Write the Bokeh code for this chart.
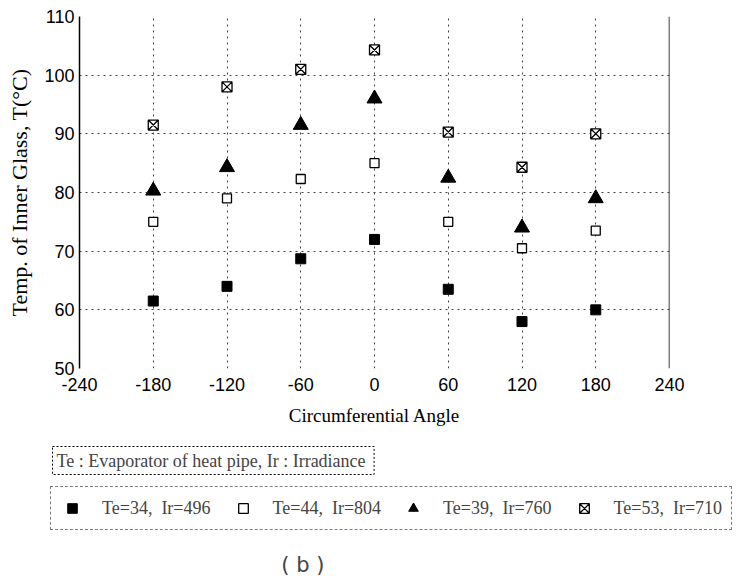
from bokeh.plotting import figure
from bokeh.models import (FixedTicker, Range1d, Span, Label, Legend, LegendItem,
                          ColumnDataSource)
from bokeh.layouts import column
from bokeh.embed import file_html
from bokeh.resources import INLINE

# ---- data ----
angles = [-180, -120, -60, 0, 60, 120, 180]
t_34_496 = [61.5, 64.0, 68.7, 72.0, 63.5, 58.0, 60.0]
t_44_804 = [75.0, 79.0, 82.3, 85.0, 75.0, 70.5, 73.5]
t_39_760 = [80.3, 84.3, 91.5, 96.0, 82.5, 74.0, 79.0]
t_53_710 = [91.5, 98.0, 101.0, 104.3, 90.3, 84.3, 90.0]
series_labels = ["Te=34,  Ir=496", "Te=44,  Ir=804", "Te=39,  Ir=760", "Te=53,  Ir=710"]
x_ticks = [-240, -180, -120, -60, 0, 60, 120, 180, 240]
y_ticks = [50, 60, 70, 80, 90, 100, 110]
note_text = "Te : Evaporator of heat pipe,  Ir : Irradiance"
caption = "(  b  )"

W = 739
H_TOP = 430
H_BOT = 576 - H_TOP

p = figure(width=W, height=H_TOP, output_backend="svg", toolbar_location=None,
           x_range=Range1d(-240, 240), y_range=Range1d(50, 110),
           min_border_left=79, min_border_right=70, min_border_top=16,
           min_border_bottom=62)
p.frame_align = False
p.outline_line_color = None
p.background_fill_color = "white"
p.border_fill_color = "white"

for ax in (p.xaxis[0], p.yaxis[0]):
    ax.major_tick_out = 0
    ax.major_tick_in = 0
    ax.minor_tick_out = 0
    ax.minor_tick_in = 0
    ax.major_label_text_font = "Liberation Sans"
    ax.major_label_text_font_size = "18px"
    ax.major_label_text_color = "black"
    ax.axis_label_text_font = "Liberation Serif"
    ax.axis_label_text_font_style = "normal"
    ax.axis_label_text_color = "black"

p.xaxis.ticker = FixedTicker(ticks=x_ticks)
p.yaxis.ticker = FixedTicker(ticks=y_ticks)
p.xaxis.major_label_overrides = {t: str(t) for t in x_ticks}
p.yaxis.major_label_overrides = {t: str(t) for t in y_ticks}
p.xaxis.axis_line_color = None
p.yaxis.axis_line_color = "black"
p.yaxis.axis_line_width = 1.5
p.xaxis.major_label_standoff = 9
p.yaxis.major_label_standoff = 5
p.xaxis.axis_label = "Circumferential Angle"
p.yaxis.axis_label = "Temp. of Inner Glass, T(\u00b0C)"
p.xaxis.axis_label_text_font_size = "19px"
p.yaxis.axis_label_text_font_size = "22px"
p.xaxis.axis_label_standoff = 11
p.yaxis.axis_label_standoff = 9

for g in (p.xgrid[0], p.ygrid[0]):
    g.grid_line_color = "#444444"
    g.grid_line_dash = "2 4"
    g.grid_line_width = 1
p.xgrid.ticker = FixedTicker(ticks=x_ticks[1:-1])
p.ygrid.ticker = FixedTicker(ticks=y_ticks)

p.add_layout(Span(location=240, dimension="height", line_color="black", line_width=1.5))

src = ColumnDataSource(dict(x=angles, a=t_34_496, b=t_44_804, c=t_39_760, d=t_53_710))
r1 = p.scatter("x", "a", source=src, marker="square", size=10, fill_color="black", line_color="black")
r2 = p.scatter("x", "b", source=src, marker="square", size=9, fill_color="white", line_color="black", line_width=1.3)
r3 = p.scatter("x", "c", source=src, marker="triangle", size=15, fill_color="black", line_color="black")
r4 = p.scatter("x", "d", source=src, marker="square_x", size=10, fill_color="white", line_color="black", line_width=1.3)

# ---- bottom panel with notes and legend ----
q = figure(width=W, height=H_BOT, output_backend="svg", toolbar_location=None,
           x_range=Range1d(0, W), y_range=Range1d(H_BOT, 0),
           x_axis_location=None, y_axis_location=None, min_border=0)
q.frame_align = False
q.grid.visible = False
q.outline_line_color = None
q.border_fill_color = "white"

q.add_layout(Label(x=52, y=30, text=note_text, text_font="Liberation Serif",
                   text_font_size="18px", text_baseline="middle", text_align="left",
                   border_line_color="black", border_line_dash="2 2", padding=4))

# legend-only renderers (kept outside the visible range)
off = dict(x=[-999], y=[-999])
e1 = q.scatter(x="x", y="y", source=ColumnDataSource(off), marker="square", size=10, fill_color="black", line_color="black")
e2 = q.scatter(x="x", y="y", source=ColumnDataSource(off), marker="square", size=9, fill_color="white", line_color="black", line_width=1.3)
e3 = q.scatter(x="x", y="y", source=ColumnDataSource(off), marker="triangle", size=15, fill_color="black", line_color="black")
e4 = q.scatter(x="x", y="y", source=ColumnDataSource(off), marker="square_x", size=10, fill_color="white", line_color="black", line_width=1.3)

leg = Legend(items=[LegendItem(label=lab, renderers=[r]) for lab, r in
                    zip(series_labels, [e1, e2, e3, e4])],
             orientation="horizontal", location=(50, 46),
             label_text_font="Liberation Serif", label_text_font_size="18px",
             glyph_width=24, glyph_height=24, label_standoff=18, spacing=20,
             padding=9, border_line_color="black", border_line_dash="2 2",
             background_fill_alpha=0)
q.add_layout(leg, "center")

q.add_layout(Label(x=309, y=134, text=caption, text_font="DejaVu Sans",
                   text_font_size="21px", text_align="center", text_baseline="middle"))

out = column(p, q, spacing=0)
open("out.html", "w").write(file_html(out, INLINE))
